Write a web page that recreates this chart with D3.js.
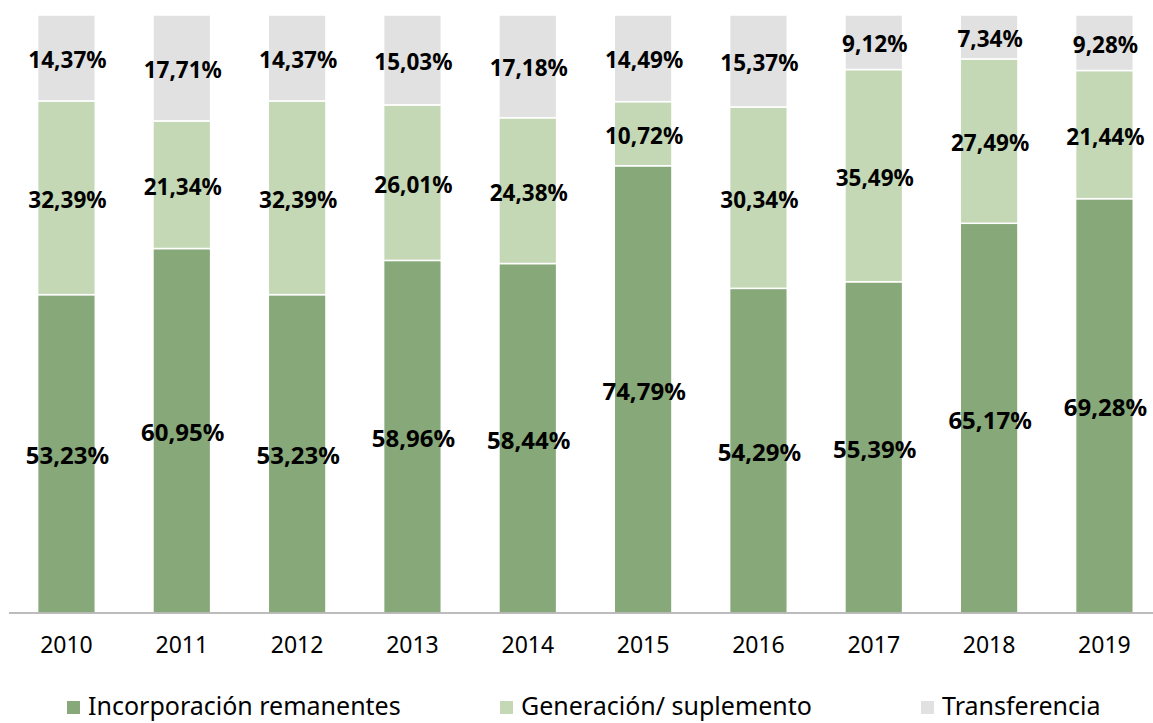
<html>
<head>
<meta charset="utf-8" />
<script src="https://cdnjs.cloudflare.com/ajax/libs/d3/7.8.5/d3.min.js"></script>
<style>
	body { margin: 0; background: #fff; }
	svg text { font-family: "Noto Sans", sans-serif; }
</style>
</head>
<body>
<div id="chart"></div>
<script type="text/javascript">

var years = ["2010", "2011", "2012", "2013", "2014", "2015", "2016", "2017", "2018", "2019"];
var incorporacion = [53.23, 60.95, 53.23, 58.96, 58.44, 74.79, 54.29, 55.39, 65.17, 69.28];
var generacion = [32.39, 21.34, 32.39, 26.01, 24.38, 10.72, 30.34, 35.49, 27.49, 21.44];
var transferencia = [14.37, 17.71, 14.37, 15.03, 17.18, 14.49, 15.37, 9.12, 7.34, 9.28];
var seriesNames = ["Incorporación remanentes", "Generación/ suplemento", "Transferencia"];
var seriesColors = ["#87a878", "#c4d8b6", "#e1e1e1"];

var W = 1153, H = 723;
var plotTop = 15, plotBase = 613;

var svg = d3.select("#chart").append("svg")
	.attr("width", W)
	.attr("height", H);

// rows for the stack
var rows = years.map(function(yr, i){
	return { year: yr, a: incorporacion[i], b: generacion[i], c: transferencia[i] };
});
var stack = d3.stack().keys(["a", "b", "c"]).offset(d3.stackOffsetExpand);
var layers = stack(rows);

var x = d3.scaleBand().domain(years).range([8.8, 1162.1]).paddingInner(0.5).paddingOuter(0.25);
var y = d3.scaleLinear().domain([0, 1]).range([plotBase, plotTop]);

var raw = [incorporacion, generacion, transferencia];
var labelSize = ["24px", "22.5px", "22.5px"];

var g = svg.selectAll("g.layer")
	.data(layers)
	.enter()
	.append("g")
	.attr("class", "layer")
	.attr("fill", function(d, i){ return seriesColors[i]; });

g.selectAll("rect")
	.data(function(d){ return d; })
	.enter()
	.append("rect")
	.attr("x", function(d){ return x(d.data.year); })
	.attr("width", x.bandwidth())
	.attr("y", function(d){ return y(d[1]); })
	.attr("height", function(d){ return y(d[0]) - y(d[1]); })
	.attr("stroke", "#fff")
	.attr("stroke-width", 1.5);

// labels
layers.forEach(function(layer, li){
	svg.append("g").selectAll("text")
		.data(layer)
		.enter()
		.append("text")
		.attr("x", function(d){ return x(d.data.year) + x.bandwidth()/2 + 1; })
		.attr("y", function(d){ return (y(d[0]) + y(d[1]))/2 + 2; })
		.attr("dy", "0.36em")
		.attr("text-anchor", "middle")
		.attr("font-size", labelSize[li])
		.attr("font-weight", "bold")
		.attr("fill", "#000")
		.text(function(d, i){ return raw[li][i].toFixed(2).replace(".", ",") + "%"; });
});

// x axis
var axis = svg.append("g")
	.attr("transform", "translate(0," + plotBase + ")")
	.call(d3.axisBottom(x).tickSize(0).tickPadding(24));
axis.select(".domain").attr("stroke", "#a6a6a6").attr("stroke-width", 1.5)
	.attr("d", "M9,0H1153");
axis.selectAll("text")
	.attr("font-size", "23px")
	.attr("fill", "#000")
	.style("font-family", "'Noto Sans', sans-serif");

// legend
var legendX = [67, 500, 921];
var legend = svg.append("g").selectAll("g")
	.data(seriesNames)
	.enter()
	.append("g")
	.attr("transform", function(d, i){ return "translate(" + legendX[i] + ",701)"; });
legend.append("rect")
	.attr("width", 13)
	.attr("height", 13)
	.attr("fill", function(d, i){ return seriesColors[i]; });
legend.append("text")
	.attr("x", 21)
	.attr("y", 14)
	.attr("font-size", "25px")
	.attr("fill", "#000")
	.text(function(d){ return d; });

</script>
</body>
</html>
